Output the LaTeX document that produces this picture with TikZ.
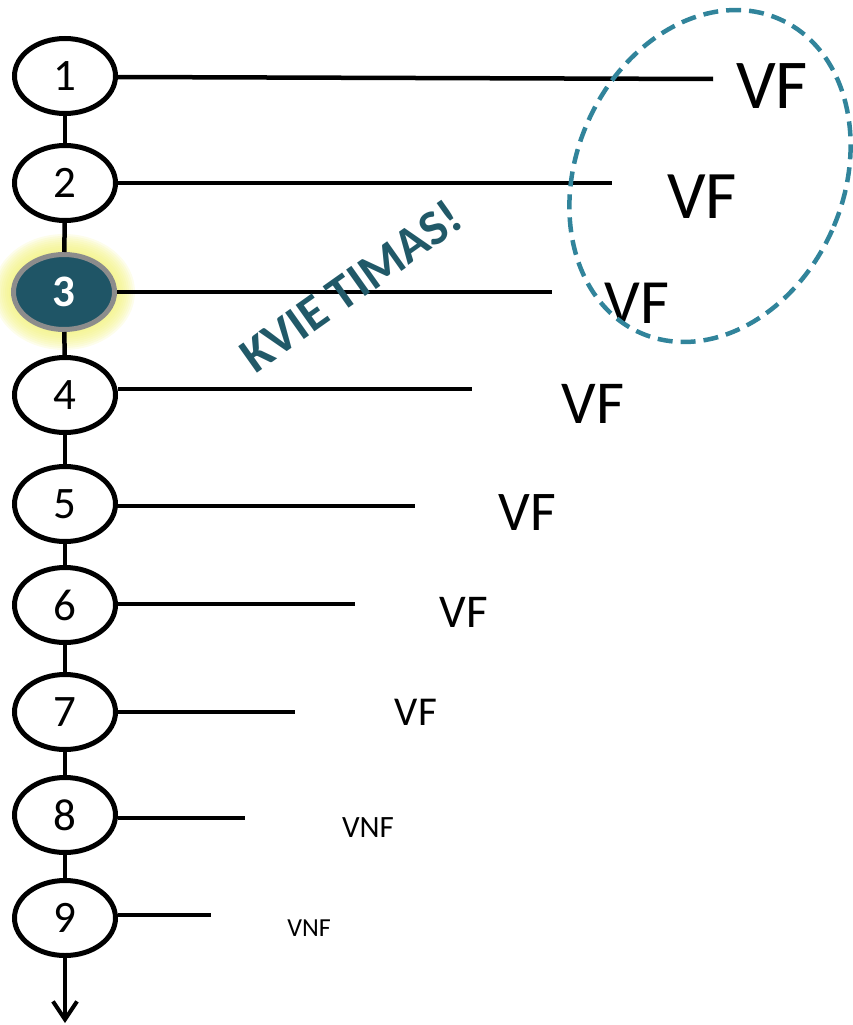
\documentclass[tikz,border=0pt]{standalone}
\usepackage{fontspec}
\setmainfont{Carlito}
\usetikzlibrary{arrows.meta,shapes.geometric}
\definecolor{dashteal}{HTML}{31849B}
\definecolor{darkteal}{HTML}{215968}
\definecolor{nodeteal}{HTML}{1F5566}
\definecolor{glowyellow}{HTML}{F2F27A}
\begin{document}
\begin{tikzpicture}[x=1pt,y=-1pt,
  num/.style={draw=black, line width=5pt, ellipse, minimum width=101pt, minimum height=75pt, inner sep=0pt, fill=white, font=\fontsize{45}{50}\selectfont},
  hot/.style={num, draw=gray!90, fill=nodeteal, text=white, font=\fontsize{45}{50}\selectfont\bfseries, line width=5pt},
  conn/.style={line width=4.5pt, black},
  lbl/.style={anchor=base, inner sep=0pt}
]
\useasboundingbox (0,0) rectangle (852,1025);
% glow behind node 3
\foreach \r in {20,18,16,14,12,10,8,6,4}{
  \fill[glowyellow, opacity=0.15] (64,292) ellipse [x radius={51+\r}, y radius={38+\r}];
}
% nodes
\node[num] (n1) at (65,76) {1};
\node[num] (n2) at (65,183) {2};
\node[hot] (n3) at (64,292) {3};
\node[num] (n4) at (65,395) {4};
\node[num] (n5) at (65,504) {5};
\node[num] (n6) at (65,605) {6};
\node[num] (n7) at (65,712) {7};
\node[num] (n8) at (65,815) {8};
\node[num] (n9) at (65,918) {9};
\coordinate (axisend) at (65,1023);
% vertical axis
\draw[conn] (n1) -- (n2);
\draw[conn] (n2) -- (n3);
\draw[conn] (n3) -- (n4);
\draw[conn] (n4) -- (n5);
\draw[conn] (n5) -- (n6);
\draw[conn] (n6) -- (n7);
\draw[conn] (n7) -- (n8);
\draw[conn] (n8) -- (n9);
\draw[conn, -{Straight Barb[length=18pt,width=24pt,line width=4pt]}] (n9) -- (axisend);
% end points of branches
\coordinate (e1) at (713,79);
\coordinate (e2) at (612,183);
\coordinate (e3) at (552,292);
\coordinate (e4) at (472,389);
\coordinate (e5) at (415,506);
\coordinate (e6) at (355,604);
\coordinate (e7) at (295,712);
\coordinate (e8) at (245,818);
\coordinate (e9) at (211,915);
\draw[conn] (n1.east |- e1) ++(0,-2) -- (e1);
\draw[conn] (n2.east) -- (e2);
\draw[conn] (n3.east) -- (e3);
\draw[conn] (n4.east |- e4) -- (e4);
\draw[conn] (n5.east |- e5) -- (e5);
\draw[conn] (n6.east |- e6) -- (e6);
\draw[conn] (n7.east) -- (e7);
\draw[conn] (n8.east |- e8) -- (e8);
\draw[conn] (n9.east |- e9) -- (e9);
% labels
\node[lbl, font=\fontsize{70}{80}\selectfont] (v1) at (772,108) {VF};
\node[lbl, font=\fontsize{68}{78}\selectfont] (v2) at (702,218) {VF};
\node[lbl, font=\fontsize{63}{72}\selectfont] (v3) at (637,323) {VF};
\node[lbl, font=\fontsize{61}{70}\selectfont] (v4) at (593,423) {VF};
\node[lbl, font=\fontsize{56}{64}\selectfont] (v5) at (527,530) {VF};
\node[lbl, font=\fontsize{47}{54}\selectfont] (v6) at (464,627) {VF};
\node[lbl, font=\fontsize{41}{48}\selectfont] (v7) at (416,725) {VF};
\node[lbl, font=\fontsize{31}{36}\selectfont] (v8) at (368,837) {VNF};
\node[lbl, font=\fontsize{26}{30}\selectfont] (v9) at (309,936) {VNF};
% dashed ellipse
\draw[dashteal, line width=4.5pt, dash pattern=on 15pt off 8pt, rotate around={-24:(710,176)}] (710,176) ellipse [x radius=133.6, y radius=171.6];
% rotated text
\node[text=darkteal, font=\fontsize{50}{56}\selectfont\bfseries, rotate=35.3, inner sep=0pt] (kt) at (351,286) {KVIE TIMAS!};
\end{tikzpicture}
\end{document}
